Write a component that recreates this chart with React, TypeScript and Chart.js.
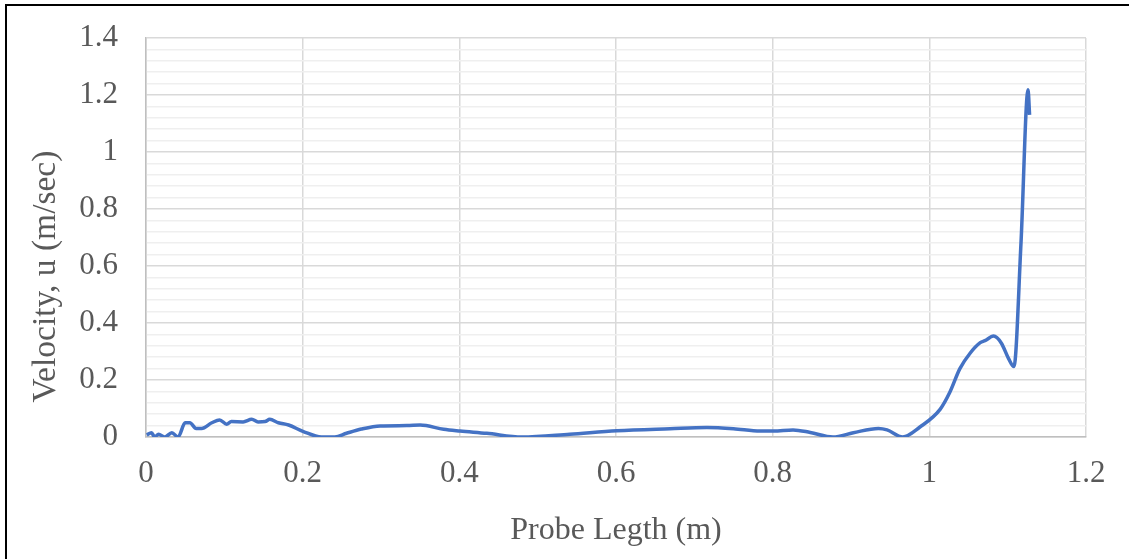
import React, { useEffect, useRef } from "react";
import { Chart, registerables } from "chart.js";

Chart.register(...registerables);

const probeLength: number[] = [
  0.001, 0.007, 0.011, 0.016, 0.024, 0.033, 0.041, 0.05, 0.056, 0.064, 0.071, 0.084,
  0.094, 0.103, 0.109, 0.124, 0.135, 0.143, 0.152, 0.158, 0.169, 0.182, 0.201, 0.224,
  0.241, 0.256, 0.275, 0.299, 0.333, 0.35, 0.38, 0.401, 0.435, 0.48, 0.541, 0.601,
  0.669, 0.716, 0.75, 0.784, 0.801, 0.826, 0.848, 0.877, 0.903, 0.935, 0.946, 0.966,
  0.988, 1.014, 1.026, 1.039, 1.052, 1.065, 1.071, 1.082, 1.092, 1.101, 1.108, 1.117,
  1.126, 1.128,
];

const velocity: number[] = [
  0.007, 0.015, 0.0, 0.01, 0.0, 0.015, 0.0, 0.05, 0.05, 0.03, 0.03, 0.05,
  0.06, 0.045, 0.054, 0.053, 0.062, 0.053, 0.054, 0.062, 0.05, 0.042, 0.019, 0.0,
  0.0, 0.013, 0.028, 0.039, 0.04, 0.042, 0.027, 0.021, 0.013, 0.0, 0.01, 0.022,
  0.029, 0.033, 0.029, 0.021, 0.021, 0.025, 0.016, 0.0, 0.015, 0.03, 0.025, 0.0,
  0.035, 0.098, 0.156, 0.24, 0.294, 0.331, 0.338, 0.354, 0.329, 0.276, 0.247, 0.68,
  1.218, 1.13,
];

const xTitle = "Probe Legth (m)";
const yTitle = "Velocity, u (m/sec)";

const FONT = "'Liberation Serif', 'Times New Roman', serif";
const TEXT = "#595959";

const fmt = (v: number | string) => String(Math.round(Number(v) * 100) / 100);

const frame = {
  id: "frame",
  afterDraw(chart: any) {
    const ctx = chart.ctx;
    ctx.save();
    ctx.strokeStyle = "#000000";
    ctx.lineWidth = 2;
    ctx.beginPath();
    ctx.moveTo(6, chart.height);
    ctx.lineTo(6, 5);
    ctx.lineTo(chart.width, 5);
    ctx.stroke();
    ctx.restore();
  },
};

const yAxisTitle = {
  id: "yAxisTitle",
  afterDraw(chart: any) {
    const ctx = chart.ctx;
    ctx.save();
    ctx.translate(54.5, 276.5);
    ctx.rotate(-Math.PI / 2);
    ctx.fillStyle = TEXT;
    ctx.font = `33.5px ${FONT}`;
    ctx.textAlign = "center";
    ctx.textBaseline = "alphabetic";
    ctx.fillText(yTitle, 0, 0);
    ctx.restore();
  },
};

export default function App() {
  const ref = useRef<HTMLCanvasElement | null>(null);

  useEffect(() => {
    document.body.style.margin = "0";
    const canvas = ref.current;
    if (!canvas) return;
    const chart = new Chart(canvas, {
      type: "line",
      data: {
        datasets: [
          {
            data: probeLength.map((x, i) => ({ x, y: velocity[i] })),
            borderColor: "#4472C4",
            borderWidth: 3.5,
            pointRadius: 0,
            cubicInterpolationMode: "monotone",
            fill: false,
          },
        ],
      },
      options: {
        animation: false,
        responsive: false,
        maintainAspectRatio: false,
        layout: { padding: { left: 0, top: 38, right: 43, bottom: 0 } },
        plugins: { legend: { display: false }, tooltip: { enabled: false } },
        scales: {
          x: {
            type: "linear",
            min: 0,
            max: 1.2,
            ticks: {
              stepSize: 0.2,
              color: TEXT,
              font: { family: FONT, size: 31 },
              padding: 18,
              maxRotation: 0,
              callback: (v: any) => fmt(v),
            },
            grid: { color: "#d9d9d9", lineWidth: 1.5, drawTicks: false },
            border: { color: "#bfbfbf", width: 1.5 },
            title: {
              display: true,
              text: xTitle,
              color: TEXT,
              font: { family: FONT, size: 32, lineHeight: 1.2 },
              padding: { top: 0, bottom: 9 },
            },
            afterFit(scale: any) {
              scale.height = 122;
            },
          },
          yMinor: {
            type: "linear",
            position: "left",
            min: 0,
            max: 1.4,
            ticks: { display: false, stepSize: 0.04 },
            grid: {
              drawTicks: false,
              lineWidth: 1.5,
              color: (c: any) => {
                const v = c.tick ? c.tick.value : 0;
                const r = Math.abs(v / 0.2 - Math.round(v / 0.2));
                return r < 0.01 ? "rgba(0,0,0,0)" : "#efefef";
              },
            },
            border: { display: false },
            afterFit(scale: any) {
              scale.width = 0;
              scale.paddingTop = 0;
              scale.paddingBottom = 0;
            },
          },
          y: {
            type: "linear",
            position: "left",
            min: 0,
            max: 1.4,
            ticks: {
              stepSize: 0.2,
              color: TEXT,
              font: { family: FONT, size: 31 },
              padding: 28,
              callback: (v: any) => fmt(v),
            },
            grid: { color: "#d9d9d9", lineWidth: 1.5, drawTicks: false },
            border: { color: "#bfbfbf", width: 1.5 },
            title: { display: false },
            afterFit(scale: any) {
              scale.width = 146;
              scale.paddingTop = 0;
              scale.paddingBottom = 0;
            },
          },
        },
      },
      plugins: [frame, yAxisTitle],
    } as any);
    return () => chart.destroy();
  }, []);

  return (
    <div style={{ width: 1129, height: 559 }}>
      <canvas ref={ref} width={1129} height={559} style={{ display: "block", width: 1129, height: 559 }} />
    </div>
  );
}
